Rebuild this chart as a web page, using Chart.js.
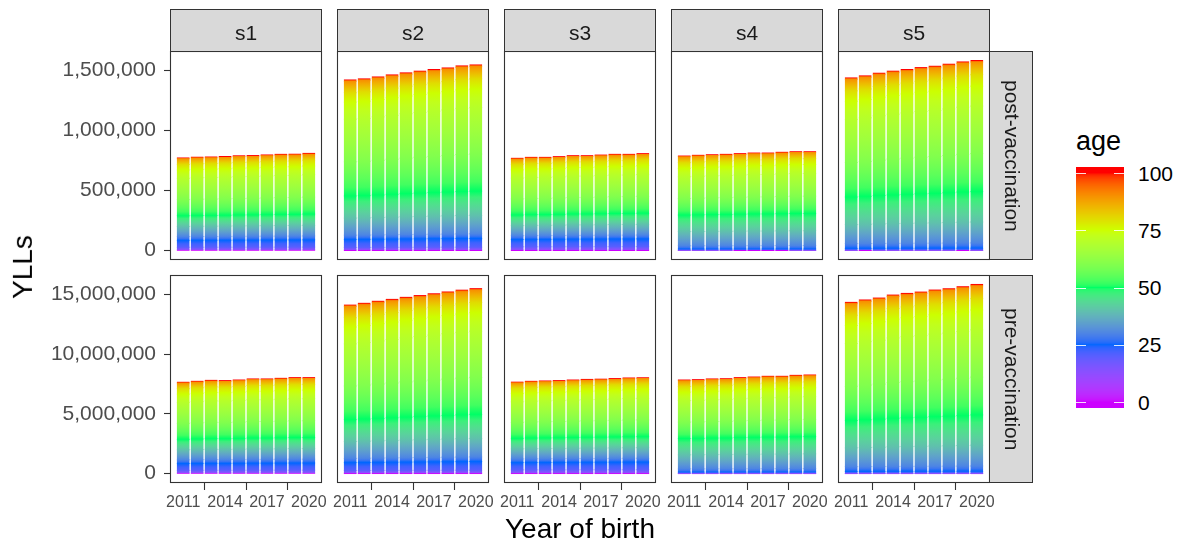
<!DOCTYPE html>
<html>
<head>
<meta charset="utf-8">
<script src="https://cdn.jsdelivr.net/npm/chart.js@4.4.1/dist/chart.umd.min.js"></script>
<style>
  html, body { margin: 0; padding: 0; background: #fff; }
  #fig { position: relative; width: 1184px; height: 550px; overflow: hidden;
         font-family: "Liberation Sans", Arial, sans-serif; }
  #fig canvas { position: absolute; }
  .strip { position: absolute; box-sizing: border-box; background: #D9D9D9;
           border: 1px solid #333; color: #1A1A1A; font-size: 21px; line-height: 21px;
           display: flex; align-items: center; justify-content: center; }
  .strip.top span { position: relative; top: 2px; }
  .strip.side span { writing-mode: vertical-rl; position: relative; left: 1px; }
  .txt { position: absolute; white-space: nowrap; }
</style>
</head>
<body>
<div id="fig"></div>
<script>
// ---- data -------------------------------------------------------------
const years = [2011, 2012, 2013, 2014, 2015, 2016, 2017, 2018, 2019, 2020];
const xTickYears = [2011, 2014, 2017, 2020];
const scenarios = ['s1', 's2', 's3', 's4', 's5'];
const phases = ['post-vaccination', 'pre-vaccination'];

// total YLLs per year of birth, post-vaccination
const postS1 = [770000, 776000, 778000, 782000, 788000, 790000, 795000, 800000, 801000, 808000];
const postS2 = [1419000, 1428000, 1444000, 1461000, 1478000, 1492000, 1506000, 1519000, 1536000, 1544000];
const postS3 = [767000, 775000, 775000, 781000, 789000, 789000, 794000, 800000, 800000, 806000];
const postS4 = [786000, 792000, 797000, 800000, 806000, 811000, 811000, 817000, 822000, 822000];
const postS5 = [1436000, 1453000, 1475000, 1492000, 1506000, 1522000, 1533000, 1550000, 1569000, 1581000];

// total YLLs per year of birth, pre-vaccination
const preS1 = [7640000, 7720000, 7800000, 7780000, 7830000, 7920000, 7920000, 7970000, 8030000, 8030000];
const preS2 = [14100000, 14250000, 14420000, 14580000, 14750000, 14900000, 15050000, 15200000, 15350000, 15480000];
const preS3 = [7650000, 7720000, 7750000, 7780000, 7830000, 7880000, 7900000, 7950000, 8000000, 8020000];
const preS4 = [7830000, 7860000, 7920000, 7940000, 8030000, 8080000, 8140000, 8140000, 8220000, 8250000];
const preS5 = [14330000, 14530000, 14690000, 14940000, 15080000, 15190000, 15360000, 15470000, 15640000, 15830000];

// age bands and the share of YLLs falling in each band, per scenario
const ageEdges = [0, 12, 20, 25, 30, 40, 50, 60, 70, 75, 80, 90, 100];
const shareS1 = [0.005, 0.030, 0.075, 0.040, 0.110, 0.115, 0.175, 0.230, 0.090, 0.060, 0.062, 0.008];
const shareS2 = [0.003, 0.015, 0.047, 0.025, 0.100, 0.130, 0.200, 0.250, 0.100, 0.055, 0.067, 0.008];
const shareS3 = [0.005, 0.035, 0.080, 0.040, 0.110, 0.115, 0.175, 0.225, 0.090, 0.060, 0.057, 0.008];
const shareS4 = [0.000, 0.003, 0.012, 0.035, 0.150, 0.175, 0.175, 0.230, 0.090, 0.060, 0.062, 0.008];
const shareS5 = [0.000, 0.002, 0.010, 0.028, 0.110, 0.160, 0.200, 0.250, 0.105, 0.060, 0.067, 0.008];

const yTicksPost = [0, 500000, 1000000, 1500000];
const yTicksPre = [0, 5000000, 10000000, 15000000];
const legendTicks = [0, 25, 50, 75, 100];

const totals = [[postS1, postS2, postS3, postS4, postS5], [preS1, preS2, preS3, preS4, preS5]];
const shares = [shareS1, shareS2, shareS3, shareS4, shareS5];
const yTicks = [yTicksPost, yTicksPre];

// ---- colour scale: rainbow stops interpolated in CIE Lab ----------------
const scaleStops = ['#CC00FF', '#0066FF', '#00FF66', '#CCFF00', '#FF0000'];
const toLin = c => { c /= 255; return c <= 0.04045 ? c / 12.92 : Math.pow((c + 0.055) / 1.055, 2.4); };
const toSrgb = c => { const v = c <= 0.0031308 ? 12.92 * c : 1.055 * Math.pow(c, 1 / 2.4) - 0.055;
                      return Math.round(Math.min(1, Math.max(0, v)) * 255); };
const WN = [0.95047, 1, 1.08883];
function hexToLab(h) {
  const r = toLin(parseInt(h.slice(1, 3), 16)), g = toLin(parseInt(h.slice(3, 5), 16)), b = toLin(parseInt(h.slice(5, 7), 16));
  const X = 0.4124564 * r + 0.3575761 * g + 0.1804375 * b;
  const Y = 0.2126729 * r + 0.7151522 * g + 0.0721750 * b;
  const Z = 0.0193339 * r + 0.1191920 * g + 0.9503041 * b;
  const f = t => t > 0.008856 ? Math.cbrt(t) : 7.787 * t + 16 / 116;
  const fx = f(X / WN[0]), fy = f(Y / WN[1]), fz = f(Z / WN[2]);
  return [116 * fy - 16, 500 * (fx - fy), 200 * (fy - fz)];
}
function labToCss([L, a, b]) {
  const fy = (L + 16) / 116, fx = fy + a / 500, fz = fy - b / 200;
  const fi = t => { const t3 = t * t * t; return t3 > 0.008856 ? t3 : (t - 16 / 116) / 7.787; };
  const X = WN[0] * fi(fx), Y = WN[1] * fi(fy), Z = WN[2] * fi(fz);
  const r = 3.2404542 * X - 1.5371385 * Y - 0.4985314 * Z;
  const g = -0.9692660 * X + 1.8760108 * Y + 0.0415560 * Z;
  const bb = 0.0556434 * X - 0.2040259 * Y + 1.0572252 * Z;
  return `rgb(${toSrgb(r)},${toSrgb(g)},${toSrgb(bb)})`;
}
const labStops = scaleStops.map(hexToLab);
function ageColor(age) {
  const a = Math.min(100, Math.max(0, age)) / 25;
  const i = Math.min(3, Math.floor(a)), t = a - i;
  const p = labStops[i], q = labStops[i + 1];
  return labToCss([p[0] + (q[0] - p[0]) * t, p[1] + (q[1] - p[1]) * t, p[2] + (q[2] - p[2]) * t]);
}

// one vertical gradient per bar: age runs from 0 at the base to 100 at the top
function barGradient(chart, total, share) {
  const ys = chart.scales.y;
  const y0 = ys.getPixelForValue(0), y1 = ys.getPixelForValue(total);
  const g = chart.ctx.createLinearGradient(0, y0, 0, y1);
  let cum = 0;
  for (let k = 0; k < share.length; k++) {
    const a0 = ageEdges[k], a1 = ageEdges[k + 1], c0 = cum, c1 = cum + share[k];
    const n = Math.max(1, Math.ceil((a1 - a0) / 2.5));
    for (let j = 0; j <= n; j++) {
      const t = j / n;
      g.addColorStop(Math.min(1, Math.max(0, c0 + (c1 - c0) * t)), ageColor(a0 + (a1 - a0) * t));
    }
    cum = c1;
  }
  return g;
}

const fmtComma = v => String(Math.round(v)).replace(/\B(?=(\d{3})+(?!\d))/g, ',');

// ---- layout -------------------------------------------------------------
const FONT = '"Liberation Sans", Arial, sans-serif';
const fig = document.getElementById('fig');
const panelW = 152, panelStep = 167, firstLeft = 170;
const rowTop = [51, 275], rowBottom = [260, 483];
const padX = 8, padY = 14, xAxisH = 45;

const panelFrame = {
  id: 'panelFrame',
  afterDatasetsDraw(chart) {
    const { ctx, chartArea: a } = chart;
    ctx.save();
    ctx.strokeStyle = '#333333';
    ctx.lineWidth = 1.1;
    ctx.strokeRect(a.left + 0.5, a.top + 0.5, a.right - a.left - 1, a.bottom - a.top - 1);
    ctx.restore();
  }
};

// x range: bars of width 0.9 plus a 5% margin; y range: 0..max plus 5% each side
const xLo = years[0] - 0.45, xHi = years[years.length - 1] + 0.45, xPad = (xHi - xLo) * 0.05;

for (let r = 0; r < 2; r++) {
  const rowMax = Math.max(...totals[r].map(a => Math.max(...a)));
  for (let c = 0; c < 5; c++) {
    const L = firstLeft + c * panelStep, R = L + panelW, T = rowTop[r], B = rowBottom[r];
    const cl = c === 0 ? 0 : L - padX, ct = T - padY;
    const cw = R + padX - cl, ch = (r === 1 ? B + xAxisH : B + padY) - ct;
    const cv = document.createElement('canvas');
    cv.width = cw; cv.height = ch;
    cv.style.left = cl + 'px'; cv.style.top = ct + 'px';
    cv.style.width = cw + 'px'; cv.style.height = ch + 'px';
    fig.appendChild(cv);

    const tot = totals[r][c], share = shares[c];
    const datasets = share.map((s, k) => ({
      label: ageEdges[k] + '-' + ageEdges[k + 1],
      data: years.map((yr, i) => ({ x: yr, y: tot[i] * s })),
      stack: 'ages',
      barPercentage: 0.83,
      categoryPercentage: 1.0,
      borderWidth: 0,
      inflateAmount: 0.5,
      backgroundColor: ctx => {
        const ch = ctx.chart;
        if (!ch.chartArea || ctx.dataIndex === undefined) return ageColor((ageEdges[k] + ageEdges[k + 1]) / 2);
        return barGradient(ch, tot[ctx.dataIndex], share);
      }
    }));

    new Chart(cv, {
      type: 'bar',
      data: { datasets },
      plugins: [panelFrame],
      options: {
        responsive: false,
        devicePixelRatio: 1,
        animation: false,
        events: [],
        layout: { padding: { left: c === 0 ? 0 : padX, right: padX, top: padY, bottom: r === 1 ? 0 : padY } },
        plugins: { legend: { display: false }, tooltip: { enabled: false } },
        scales: {
          x: {
            type: 'linear',
            min: xLo - xPad, max: xHi + xPad,
            display: r === 1,
            offset: false,
            grid: { display: true, drawOnChartArea: false, drawTicks: true, tickLength: 7,
                    tickColor: '#333333', tickWidth: 1.1 },
            border: { display: false },
            afterBuildTicks: s => { s.ticks = xTickYears.map(v => ({ value: v })); },
            afterFit: s => { if (r === 1) s.height = xAxisH; s.paddingLeft = 0; s.paddingRight = 0; },
            ticks: { autoSkip: false, maxRotation: 0, minRotation: 0, padding: 3,
                     color: '#4D4D4D', font: { family: FONT, size: 16 },
                     callback: v => String(v) }
          },
          y: {
            type: 'linear',
            stacked: true,
            min: -0.05 * rowMax, max: 1.05 * rowMax,
            display: c === 0,
            grid: { display: true, drawOnChartArea: false, drawTicks: true, tickLength: 6,
                    tickColor: '#333333', tickWidth: 1.1 },
            border: { display: false },
            afterBuildTicks: s => { s.ticks = yTicks[r].map(v => ({ value: v })); },
            afterFit: s => { if (c === 0) s.width = firstLeft; s.paddingTop = 0; s.paddingBottom = 0; },
            ticks: { padding: 8, color: '#4D4D4D', font: { family: FONT, size: 21 },
                     callback: v => fmtComma(v) }
          }
        }
      }
    });
  }
}

// ---- facet strips --------------------------------------------------------
function addDiv(cls, left, top, w, h, text) {
  const d = document.createElement('div');
  d.className = cls;
  Object.assign(d.style, { left: left + 'px', top: top + 'px', width: w + 'px', height: h + 'px' });
  const s = document.createElement('span'); s.textContent = text; d.appendChild(s);
  fig.appendChild(d);
  return d;
}
scenarios.forEach((s, c) => addDiv('strip top', firstLeft + c * panelStep, 9, panelW, 43, s));
phases.forEach((p, r) => addDiv('strip side', firstLeft + 4 * panelStep + panelW - 1, rowTop[r], 44, rowBottom[r] - rowTop[r], p));

// ---- axis titles ---------------------------------------------------------
function addText(text, left, top, size, color, extra) {
  const d = document.createElement('div');
  d.className = 'txt';
  d.textContent = text;
  Object.assign(d.style, { left: left + 'px', top: top + 'px', fontSize: size + 'px', lineHeight: size + 'px', color }, extra || {});
  fig.appendChild(d);
  return d;
}
const xt = addText('Year of birth', 0, 515, 28, '#000');
xt.style.left = (580 - xt.offsetWidth / 2) + 'px';
const yt = addText('YLLs', 0, 0, 28, '#000');
yt.style.left = (23 - yt.offsetWidth / 2) + 'px';
yt.style.top = (267 - 14) + 'px';
yt.style.transform = 'rotate(-90deg)';

// ---- colour bar legend ---------------------------------------------------
addText('age', 1076, 128, 27, '#000');
const barL = 1076, barT = 167, barW = 48, barH = 241;
const tickY = age => 402 - (402 - 173) * age / 100;
const lc = document.createElement('canvas');
lc.width = barW; lc.height = barH;
Object.assign(lc.style, { left: barL + 'px', top: barT + 'px', width: barW + 'px', height: barH + 'px' });
fig.appendChild(lc);
const lx = lc.getContext('2d');
for (let py = 0; py < barH; py++) {
  const age = (402 - (barT + py + 0.5)) / (402 - 173) * 100;
  lx.fillStyle = ageColor(age);
  lx.fillRect(0, py, barW, 1);
}
lx.strokeStyle = 'rgba(255,255,255,0.85)';
lx.lineWidth = 1;
legendTicks.forEach(v => {
  const y = Math.round(tickY(v) - barT) + 0.5;
  lx.beginPath(); lx.moveTo(0, y); lx.lineTo(10, y); lx.moveTo(barW - 10, y); lx.lineTo(barW, y); lx.stroke();
  addText(String(v), 1138, tickY(v) - 10.3, 21, '#000');
});
</script>
</body>
</html>
